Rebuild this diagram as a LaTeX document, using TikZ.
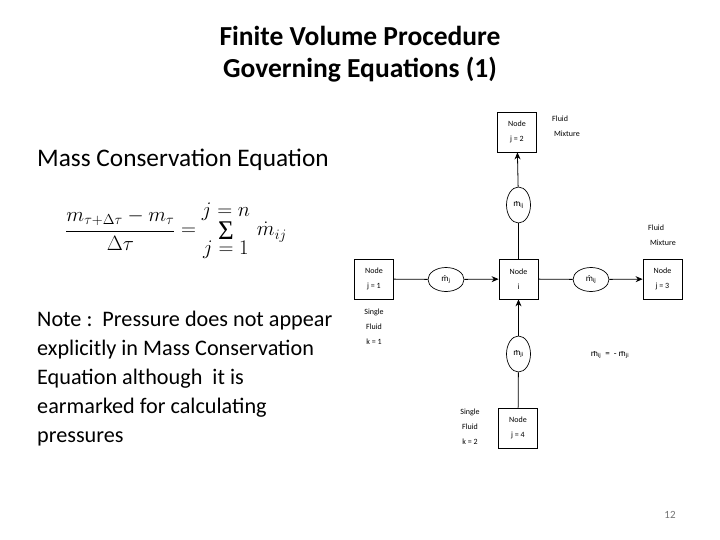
\documentclass[tikz,border=0pt]{standalone}
\usepackage{fontspec}
\setmainfont{Carlito}
\newfontfamily\timesf{Liberation Serif}
\usetikzlibrary{shapes.geometric,arrows.meta}
\newcommand{\mdot}{\ooalign{\hidewidth\raisebox{1.05ex}{.}\hidewidth\cr m\cr}}
\begin{document}
\begin{tikzpicture}[x=1pt,y=-1pt,
  box/.style={draw,line width=0.8pt,minimum width=39pt,minimum height=40pt,inner sep=0pt,align=center,font=\fontsize{8}{15}\selectfont},
  flow/.style={draw,ellipse,line width=0.7pt,inner sep=0pt,font=\fontsize{9}{10}\selectfont},
  hflow/.style={flow,minimum width=36pt,minimum height=24pt},
  vflow/.style={flow,minimum width=24pt,minimum height=36pt},
  lab/.style={align=center,font=\fontsize{8}{15}\selectfont,inner sep=0pt},
  conn/.style={line width=0.8pt},
  arr/.style={line width=0.8pt,-{Stealth[length=7pt,width=6pt]}}]
\useasboundingbox (0,0) rectangle (720,540);
% titles
\node[font=\fontsize{27.5}{32}\selectfont\bfseries,align=center] (title) at (360,54) {Finite Volume Procedure\\Governing Equations (1)};
\node[font=\fontsize{25.3}{28}\selectfont,anchor=west,inner sep=0pt] (mce) at (37,160) {Mass Conservation Equation};
\node[inner sep=0pt] (eq) at (176,231) {\fontsize{22}{26}\selectfont$\displaystyle\frac{m_{\tau+\Delta\tau}-m_{\tau}}{\Delta\tau}=\mathop{\vcenter{\hbox{\timesf\fontsize{27}{27}\selectfont Σ}}}\limits_{\displaystyle j=1}^{\displaystyle j=n}\,\dot{m}_{ij}$};
\node[font=\fontsize{22.2}{29}\selectfont,align=left,anchor=north west,inner sep=0pt] (note) at (37,311) {Note :\ \ Pressure does not appear\\explicitly in Mass Conservation\\Equation although\ \ it is\\earmarked for calculating\\pressures};
% nodes
\node[box] (n2) at (517,132) {Node\\j = 2};
\node[box] (ni) at (518.5,279) {Node\\i};
\node[box] (n1) at (374,279) {Node\\j = 1};
\node[box] (n3) at (662.5,279) {Node\\j = 3};
\node[box] (n4) at (518,428) {Node\\j = 4};
\node[vflow] (e2) at (518.5,205) {\mdot\textsubscript{ij}};
\node[hflow] (e1) at (446,279.5) {\mdot\textsubscript{j}};
\node[hflow] (e3) at (591,279.5) {\mdot\textsubscript{ij}};
\node[vflow] (e4) at (518.5,354) {\mdot\textsubscript{ji}};
% labels
\node[lab,align=left] (fm1) at (566,126) {Fluid\\ \ Mixture};
\node[lab,align=left] (fm2) at (662,235) {Fluid\\ \ Mixture};
\node[lab] (sf1) at (374,327) {Single\\Fluid\\k = 1};
\node[lab] (sf2) at (470,427) {Single\\Fluid\\k = 2};
\node[font=\fontsize{9}{10}\selectfont,inner sep=0pt] (rel) at (610,355) {\mdot\textsubscript{ij}\ \ =\ \ - \mdot\textsubscript{ji}};
\node[font=\fontsize{11}{12}\selectfont,text=black!55] (pg) at (670,515) {12};
% connectors
\draw[conn] (n1) -- (e1);
\draw[arr] (e1) -- (ni);
\draw[conn] (ni) -- (e3);
\draw[arr] (e3) -- (n3);
\draw[conn] (ni) -- (e2);
\draw[arr] (e2) -- (n2);
\draw[conn] (n4) -- (e4);
\draw[arr] (e4) -- (ni);
\end{tikzpicture}
\end{document}
